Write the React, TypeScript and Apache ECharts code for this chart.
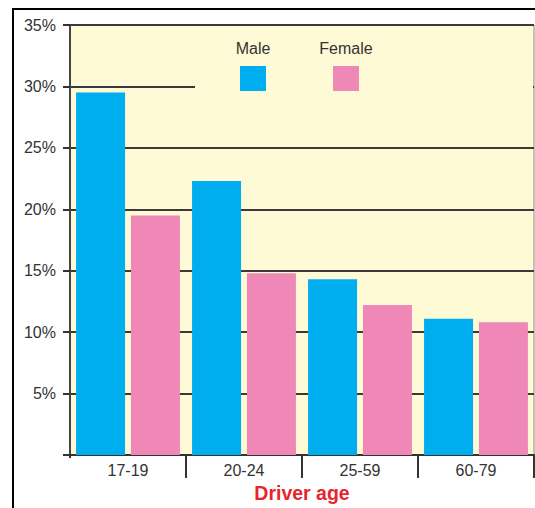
import React, { useEffect, useRef } from "react";
import * as echarts from "echarts";

const categories = ["17-19", "20-24", "25-59", "60-79"];
const seriesNames = ["Male", "Female"];
const maleValues = [29.5, 22.3, 14.3, 11.1];
const femaleValues = [19.5, 14.8, 12.2, 10.8];
const seriesColors = ["#00aeef", "#f088b7"];
const axisTitle = "Driver age";

const BG = "#fffad6";
const FONT = "'Liberation Sans', Arial, Helvetica, sans-serif";

export default function App() {
  const ref = useRef<HTMLDivElement>(null);

  useEffect(() => {
    if (!ref.current) return;
    const chart = echarts.init(ref.current, null, { renderer: "svg" });
    const legendX = [240, 333];
    const option: any = {
      animation: false,
      backgroundColor: "#ffffff",
      grid: {
        left: 70,
        right: 1,
        top: 25,
        bottom: 52,
        show: true,
        backgroundColor: BG,
        borderColor: "#888",
        borderWidth: 1,
      },
      xAxis: {
        type: "category",
        data: categories,
        boundaryGap: true,
        axisLine: { show: true, lineStyle: { color: "#333", width: 2 } },
        axisTick: { show: true, length: 23, lineStyle: { color: "#333", width: 2 } },
        axisLabel: { color: "#333", fontSize: 16, fontFamily: FONT, margin: 7 },
        name: axisTitle,
        nameLocation: "middle",
        nameGap: 28,
        nameTextStyle: {
          color: "#e8242c",
          fontSize: 19.5,
          fontWeight: "bold",
          fontFamily: FONT,
        },
      },
      yAxis: {
        type: "value",
        min: 0,
        max: 35,
        interval: 5,
        axisLine: { show: true, lineStyle: { color: "#444", width: 2 } },
        axisTick: { show: true, length: 7, lineStyle: { color: "#333", width: 2 } },
        axisLabel: {
          color: "#333",
          fontSize: 16,
          fontFamily: FONT,
          margin: 14,
          formatter: (v: number) => (v === 0 ? "" : v + "%"),
        },
        splitLine: { show: true, lineStyle: { color: "#3a3a3a", width: 2 } },
      },
      series: [
        {
          name: seriesNames[0],
          type: "bar",
          data: maleValues,
          barWidth: 49,
          barGap: "12%",
          itemStyle: { color: seriesColors[0] },
          z: 3,
        },
        {
          name: seriesNames[1],
          type: "bar",
          data: femaleValues,
          barWidth: 49,
          barGap: "12%",
          itemStyle: { color: seriesColors[1] },
          z: 3,
        },
      ],
      graphic: [
        // hide 30% gridline behind the legend area
        {
          type: "rect",
          z: 1,
          shape: { x: 195, y: 83, width: 338, height: 7 },
          style: { fill: BG },
        },
        // hide category tick at left edge
        {
          type: "rect",
          z: 1,
          shape: { x: 65, y: 458, width: 10, height: 26 },
          style: { fill: "#ffffff" },
        },
        ...seriesNames.flatMap((n, i) => [
          {
            type: "text",
            z: 10,
            x: legendX[i] + 13,
            y: 48,
            style: {
              text: n,
              fill: "#333",
              font: "16px " + FONT,
              textAlign: "center",
              textVerticalAlign: "middle",
            },
          },
          {
            type: "rect",
            z: 10,
            shape: { x: legendX[i], y: 66, width: 26, height: 25 },
            style: { fill: seriesColors[i] },
          },
        ]),
        // outer frame
        {
          type: "rect",
          z: 20,
          shape: { x: 13, y: 9, width: 700, height: 700 },
          style: { fill: "none", stroke: "#000", lineWidth: 2 },
        },
      ],
    };
    chart.setOption(option);
    return () => chart.dispose();
  }, []);

  return (
    <div
      ref={ref}
      style={{ position: "fixed", left: 0, top: 0, width: 535, height: 508 }}
    />
  );
}
